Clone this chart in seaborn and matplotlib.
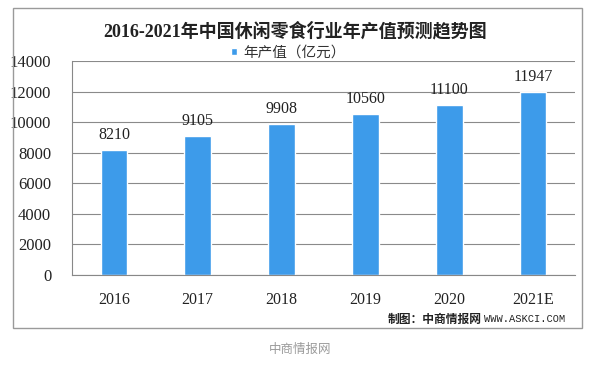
import matplotlib
matplotlib.use("Agg")
import matplotlib.pyplot as plt
import seaborn as sns
import pandas as pd
from matplotlib.patches import Rectangle

years = ["2016", "2017", "2018", "2019", "2020", "2021E"]
values = [8210, 9105, 9908, 10560, 11100, 11947]
yticks = [0, 2000, 4000, 6000, 8000, 10000, 12000, 14000]
title = "2016-2021年中国休闲零食行业年产值预测趋势图"
legend_label = "年产值（亿元）"
footer_label = "制图：中商情报网"
footer_site = "WWW.ASKCI.COM"
caption = "中商情报网"

sns.set_theme(style="white")
plt.rcParams["font.family"] = ["Liberation Serif", "Noto Sans CJK SC", "DejaVu Sans"]

W, H = 600, 370
fig = plt.figure(figsize=(6, 3.7), dpi=100)
fig.patch.set_facecolor("white")

def fx(px):
    return px / W

def fy(py):
    return 1 - py / H

left, right, top, bottom = 72, 575, 61, 275
ax = fig.add_axes([fx(left), fy(bottom), fx(right - left), (bottom - top) / H])

df = pd.DataFrame({"year": years, "value": values})
blue = "#3D9BEA"
sns.barplot(data=df, x="year", y="value", color=blue, width=0.32,
            saturation=1, ax=ax, label=legend_label)

ax.set_ylim(0, 14000)
ax.set_xlim(-0.5, len(years) - 0.5)
ax.set_yticks(yticks)
ax.set_yticklabels([str(t) for t in yticks], fontsize=12, color="#222222")
ax.set_xticks(range(len(years)))
ax.set_xticklabels(years, fontsize=11.5, color="#222222")
ax.set_xticks([i - 0.5 for i in range(len(years) + 1)], minor=True)
ax.tick_params(axis="x", which="major", length=0, pad=12)
ax.tick_params(axis="x", which="minor", length=5, color="#888888", width=0.8, direction="out")
ax.tick_params(axis="y", length=6, color="#888888", width=0.8, direction="out", pad=9)
ax.set_xlabel("")
ax.set_ylabel("")
ax.yaxis.grid(True, color="#8a8a8a", linewidth=0.8)
ax.set_axisbelow(True)
for s in ["top", "right"]:
    ax.spines[s].set_visible(False)
for s in ["left", "bottom"]:
    ax.spines[s].set_color("#888888")
    ax.spines[s].set_linewidth(0.8)

ax.bar_label(ax.containers[0], labels=[str(v) for v in values], padding=5,
             fontsize=11.5, color="#222222")

leg = ax.legend(loc="upper center", bbox_to_anchor=(0.43, 1.0 + 21 / (bottom - top)),
                frameon=False, fontsize=10.5, handlelength=0.45, handleheight=0.45,
                handletextpad=0.4, borderaxespad=0)
for t in leg.get_texts():
    t.set_color("#333333")

fig.text(0.492, fy(31), title, ha="center", va="center", fontsize=13,
         fontweight="bold", color="#222222")

fig.text(fx(482), fy(319), footer_label, ha="right", va="center", fontsize=8.5,
         fontweight="bold", color="#222222", family=["Noto Sans CJK SC", "DejaVu Sans"])
fig.text(fx(484), fy(319), footer_site, ha="left", va="center", fontsize=7.5,
         color="#222222", family=["Liberation Mono", "DejaVu Sans Mono"])
fig.text(0.5, fy(349), caption, ha="center", va="center", fontsize=9,
         color="#9a9a9a", family=["Noto Sans CJK SC", "DejaVu Sans"])

fig.add_artist(Rectangle((fx(13), fy(328)), fx(582 - 13), (328 - 8) / H,
                         transform=fig.transFigure, fill=False,
                         edgecolor="#9a9a9a", linewidth=1))

fig.savefig("out.png", dpi=100)
